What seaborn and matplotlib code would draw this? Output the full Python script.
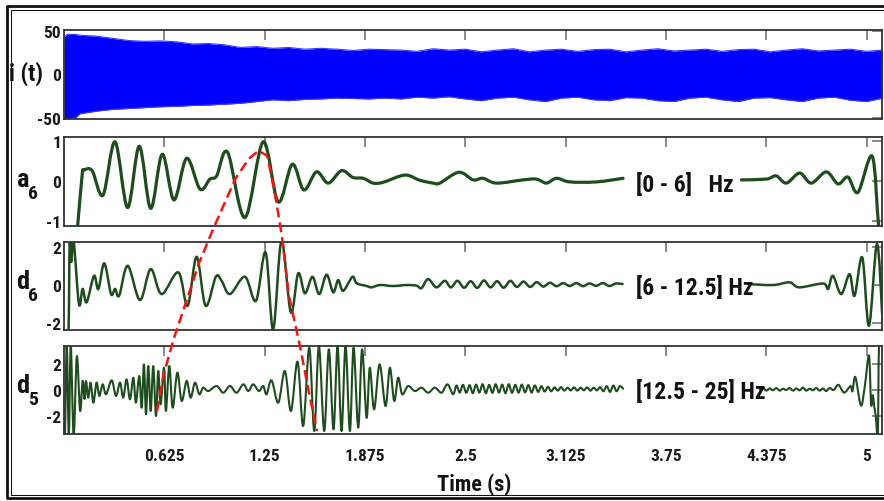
import os
import numpy as np
import pandas as pd
import matplotlib
matplotlib.use("Agg")
import matplotlib.pyplot as plt
import seaborn as sns
from matplotlib.lines import Line2D
from matplotlib.path import Path
from matplotlib.patches import PathPatch
from matplotlib import font_manager as fm

# ---------------- data ----------------
x_ticks = [0.625, 1.25, 1.875, 2.5, 3.125, 3.75, 4.375, 5]
x_tick_labels = ["0.625", "1.25", "1.875", "2.5", "3.125", "3.75", "4.375", "5"]
ytick_sets = [[-50, 0, 50], [-1, 0, 1], [-2, 0, 2], [-2, 0, 2]]
ylims = [(-51, 51), (-1.12, 1.10), (-2.34, 2.24), (-3.4, 3.4)]
band_labels = ["[0 - 6]   Hz", "[6 - 12.5] Hz", "[12.5 - 25] Hz"]
x_label = "Time (s)"

# i(t): envelope of the dense current signal
i_env_t = [0, 0.02, 0.07] + [round(0.1 * k, 1) for k in range(1, 52)]
i_upper = [43, 46, 46, 45, 44, 41.5, 39, 38, 38.5, 37.5, 35, 35.5, 34, 31, 32, 30, 31,
           29, 30, 29, 27.5, 29, 28.5, 28, 26.5, 29.5, 28, 29, 26, 28, 29.5, 26, 28, 29,
           26.5, 28.5, 29, 26, 28, 29.5, 27, 28, 29, 26.5, 28.5, 29, 26, 28, 29.5, 27,
           28, 29, 26.5, 28]
i_lower = [-51, -51, -50, -45, -42, -40, -39, -38, -37, -36.5, -35.5, -35, -34, -33,
           -31, -29, -30, -28.5, -28, -27, -27.5, -28, -27, -28, -26, -27, -25.5, -28,
           -30, -27, -26, -29, -31, -27, -26, -29, -30, -26.5, -27, -30, -31, -27, -26,
           -29, -31, -27, -26.5, -29, -31, -27, -26, -29.5, -31, -27]

# a6
a6_t = [0.0, 0.078, 0.085, 0.113, 0.122, 0.175, 0.243, 0.318, 0.396, 0.469, 0.54,
        0.612, 0.685, 0.764, 0.847, 0.909, 0.951, 1.019, 1.127, 1.241, 1.334, 1.422,
        1.494, 1.573, 1.646, 1.729, 1.80, 1.864, 1.926, 1.988, 2.123, 2.217, 2.30,
        2.341, 2.46, 2.549, 2.61, 2.694, 2.86, 2.943, 3.006, 3.068, 3.151, 3.317, 3.483]
a6_v = [-1.5, -1.5, -1.12, 0.15, 0.27, 0.26, -0.35, 0.98, -0.66, 0.87, -0.68, 0.67,
        -0.47, 0.57, -0.2, 0.05, 0.13, 0.72, -0.91, 0.98, -0.52, 0.42, -0.22, 0.23,
        -0.05, 0.26, 0.09, 0.07, -0.05, -0.03, 0.15, 0.02, -0.05, -0.05, 0.22, 0.03,
        0.07, -0.05, 0.03, 0.05, -0.05, 0.07, -0.02, -0.02, 0.07]
a6_t2 = [4.22, 4.375, 4.437, 4.5, 4.583, 4.655, 4.749, 4.822, 4.884, 4.946, 5.035,
         5.075, 5.1]
a6_v2 = [0.03, 0.05, 0.13, -0.05, 0.2, -0.05, 0.23, -0.07, 0.1, -0.28, 0.62, -1.12, -1.6]

# d6
d6_t = [0.0, 0.027, 0.035, 0.045, 0.06, 0.093, 0.116, 0.141, 0.187, 0.214, 0.251,
        0.293, 0.318, 0.344, 0.397, 0.473, 0.54, 0.608, 0.712, 0.77, 0.826, 0.882,
        0.946, 0.982, 1.034, 1.127, 1.196, 1.256, 1.303, 1.355, 1.413, 1.459, 1.501,
        1.548, 1.59, 1.636, 1.677, 1.708, 1.739, 1.797, 1.822, 1.885, 1.916, 1.968,
        2.05, 2.134, 2.196, 2.227, 2.268, 2.32, 2.372]
d6_v = [-2.5, -2.5, 2.1, 1.2, 2.3, -0.99, -0.2, -0.9, 0.48, -0.21, 1.13, -0.47, -0.2,
        -0.55, 1.0, -0.78, 0.83, -0.47, 0.66, -1.08, 1.47, -1.08, 0.43, 0.22, -0.47,
        0.43, -0.82, 1.7, -2.3, 2.3, -1.42, 0.61, -0.43, 0.43, -0.47, 0.54, -0.38,
        0.26, -0.3, 0.43, 0.1, -0.05, -0.12, 0.0, -0.05, 0.0, -0.03, -0.16, 0.31,
        -0.12, 0.22]
d6_rip = [-0.12, 0.22, -0.14, 0.2, -0.15, 0.24, -0.12, 0.2, -0.14, 0.22, -0.1, 0.18,
          -0.1, 0.15, -0.08, 0.12, -0.06, 0.1, -0.05, 0.1, -0.06, 0.08, -0.04, 0.1,
          -0.05, 0.08, 0.05]
d6_t2 = [4.26, 4.417, 4.52, 4.58, 4.728, 4.76, 4.79, 4.842, 4.894, 4.925, 4.973,
         5.015, 5.065, 5.10]
d6_v2 = [0.05, 0.0, 0.14, -0.12, 0.08, -0.2, 0.48, -0.47, 0.57, -0.56, 1.44, -2.12,
         2.14, -2.0]

# d5
d5_t = [0.0, 0.006, 0.017, 0.03, 0.042, 0.06, 0.08, 0.1, 0.116, 0.128,
        0.137, 0.151, 0.166, 0.183, 0.203, 0.22, 0.241, 0.262, 0.297, 0.324,
        0.349, 0.369, 0.39, 0.411, 0.432, 0.448, 0.469, 0.484, 0.498, 0.511,
        0.525, 0.54, 0.556, 0.573, 0.587, 0.602, 0.623, 0.635, 0.656, 0.677,
        0.706, 0.733, 0.764, 0.789, 0.816, 0.843, 0.867, 0.899, 0.951, 0.992,
        1.034, 1.075, 1.117, 1.148, 1.179,
        1.214, 1.241, 1.262, 1.293, 1.335, 1.376, 1.414, 1.455, 1.49, 1.528,
        1.559, 1.588, 1.621, 1.65, 1.679, 1.704, 1.729, 1.754, 1.781, 1.804,
        1.833, 1.857, 1.885, 1.905, 1.932, 1.966, 2.003, 2.03, 2.057, 2.082,
        2.107, 2.144, 2.186, 2.227, 2.269, 2.31, 2.352, 2.389, 2.424]
d5_v = [-3.5, -3.5, 3.5, -3.5, 3.5, -3.5, 2.6, -1.6, 0.7, -0.7,
        0.70, -0.59, 0.57, -0.98, 0.57, -0.46, 0.44, -0.33, 0.75, -0.46,
        0.57, -0.59, 0.82, -0.72, 0.95, -0.98, 1.08, -1.37, 1.98, -1.88,
        1.85, -1.62, 1.85, -2.01, 1.47, -1.11, 1.72, -1.62, 1.85, -1.37,
        1.34, -0.85, 0.70, -0.59, 0.57, -0.33, 0.18, -0.08, 0.31, -0.21,
        0.31, -0.21, 0.44, -0.08, 0.44,
        -0.08, 0.31, -0.33, 0.75, -0.98, 1.47, -1.62, 2.19, -2.78, 3.27,
        -3.17, 3.4, -3.17, 3.14, -3.04, 3.32, -3.17, 3.4, -3.17, 3.27,
        -2.91, 3.14, -2.14, 1.72, -1.5, 1.98, -1.24, 1.72, -0.85, 0.95,
        -0.33, 0.31, -0.08, 0.18, -0.21, 0.18, -0.21, 0.44, -0.33]
d5_rip1 = [0.35, -0.2, 0.4, -0.22, 0.38, -0.25, 0.42, -0.2, 0.45, -0.25,
           0.4, -0.22, 0.45, -0.2, 0.42, -0.25, 0.45, -0.22, 0.4, -0.2,
           0.42, -0.18, 0.38, -0.2, 0.35, -0.15, 0.3, -0.12, 0.25, -0.1,
           0.2, -0.05, 0.22, -0.05, 0.18, -0.03, 0.2, -0.05, 0.18, -0.02,
           0.2, -0.05, 0.18, -0.03, 0.22, -0.1, 0.3, -0.15, 0.35, -0.1,
           0.3, 0.1]
d5_rip2 = [0.05, 0.15, -0.05, 0.12, -0.02, 0.15, -0.05, 0.1, 0.0, 0.15, -0.05, 0.12,
           -0.03, 0.18, -0.05, 0.1, -0.02, 0.15, -0.05, 0.12, -0.08, 0.15, 0.0]
d5_t3 = [4.80, 4.825, 4.86, 4.90, 4.912, 4.93, 4.965, 4.99, 5.015, 5.028, 5.038,
         5.048, 5.058, 5.07, 5.078, 5.1]
d5_v3 = [0.05, 0.4, -0.2, 0.3, -0.1, 1.0, -1.2, 0.4, 2.65, -1.1, -0.4, -1.3, -2.1,
         -3.5, 3.5, 3.5]

# red dashed arc, in d5 data units (crosses the panels above)
arc_t = [0.580, 0.621, 0.683, 0.767, 0.839, 0.924, 1.067, 1.150, 1.212, 1.265, 1.306,
         1.358, 1.399, 1.458, 1.472, 1.524, 1.576]
arc_v = [-1.60, 1.21, 3.94, 7.03, 9.74, 12.29, 16.31, 17.85, 18.49, 18.11, 15.78,
         11.86, 7.42, 4.07, 3.27, -0.08, -3.17]

# ---------------- assemble frames ----------------
def frame(*segments):
    parts = []
    for k, (t, v) in enumerate(segments):
        parts.append(pd.DataFrame({"t": list(t), "v": list(v), "seg": k}))
    return pd.concat(parts, ignore_index=True)

df_a6 = frame((a6_t, a6_v), (a6_t2, a6_v2))
df_d6 = frame((d6_t + list(np.linspace(2.41, 3.48, len(d6_rip))), d6_v + d6_rip),
              (d6_t2, d6_v2))
df_d5 = frame((d5_t + list(np.linspace(2.445, 3.483, len(d5_rip1))), d5_v + d5_rip1),
              (list(np.linspace(4.334, 4.79, len(d5_rip2))) + d5_t3, d5_rip2 + d5_v3))
df_i = pd.DataFrame({"t": i_env_t, "up": i_upper, "lo": i_lower})

# ---------------- fonts ----------------
sns.set_theme(style="white")
plt.rcParams["axes.unicode_minus"] = False


def pick_narrow_bold():
    prefs = ["liberation sans narrow", "arial narrow", "nimbus sans narrow",
             "roboto condensed", "open sans condensed", "noto sans condensed",
             "dejavu sans condensed"]
    best, best_score = None, None
    for f in fm.fontManager.ttflist:
        key = (f.name + " " + os.path.basename(f.fname)).lower().replace("-", " ")
        if not ("narrow" in key or "condensed" in key):
            continue
        if f.style != "normal" or "italic" in key or "oblique" in key:
            continue
        score = 0
        for i, p in enumerate(prefs):
            if p in key:
                score += 100 - 10 * i
                break
        if "semi" in key or "semicondensed" in key:
            score -= 15
        if "extra" in key or "ultra" in key:
            score -= 25
        w = f.weight if isinstance(f.weight, int) else {"bold": 700}.get(f.weight, 400)
        if w == 700 or "bold" in key and "semibold" not in key and "extrabold" not in key:
            score += 50
        elif w >= 600:
            score += 20
        if best_score is None or score > best_score:
            best, best_score = f, score
    return best


_nf = pick_narrow_bold()
if _nf is not None:
    NARROW = True

    def FP(size):
        return fm.FontProperties(fname=_nf.fname, size=size)
else:
    NARROW = False

    def FP(size):
        return fm.FontProperties(family=["Liberation Sans", "DejaVu Sans"],
                                 weight="bold", size=size * 0.84)

GREEN = "#1d4d1d"
BLUE = "#0000ff"
W_PX, H_PX = 884, 502
fig = plt.figure(figsize=(W_PX / 100, H_PX / 100), dpi=100)
fig.patch.set_facecolor("white")

left, right = 64, 882
tops = [31, 138, 243, 347]
bots = [120, 227, 331, 435]
axes = [fig.add_axes([left / W_PX, 1 - b / H_PX, (right - left) / W_PX, (b - t) / H_PX])
        for t, b in zip(tops, bots)]

# panel 1: current band
ax = axes[0]
ax.fill_between(df_i["t"], df_i["lo"], df_i["up"], color=BLUE, lw=0)
sns.lineplot(data=df_i, x="t", y="up", ax=ax, color="#3a3aff", lw=0.8, estimator=None)
sns.lineplot(data=df_i, x="t", y="lo", ax=ax, color="#3a3aff", lw=0.8, estimator=None)


def smooth_path(xy):
    P = np.asarray(xy, dtype=float)
    verts, codes = [P[0]], [Path.MOVETO]
    n = len(P)
    for i in range(n - 1):
        p0 = P[i - 1] if i > 0 else P[i]
        p1, p2 = P[i], P[i + 1]
        p3 = P[i + 2] if i + 2 < n else P[i + 1]
        c1 = p1 + (p2 - p0) / 6.0
        c2 = p2 - (p3 - p1) / 6.0
        c1[0] = min(max(c1[0], p1[0]), p2[0])
        c2[0] = min(max(c2[0], p1[0]), p2[0])
        verts += [c1, c2, p2]
        codes += [Path.CURVE4] * 3
    return Path(verts, codes)


for ax, df, lw in zip(axes[1:], [df_a6, df_d6, df_d5], [2.3, 1.8, 1.5]):
    sns.lineplot(data=df, x="t", y="v", units="seg", estimator=None, sort=False,
                 color=GREEN, lw=lw, ax=ax, legend=False)
    # render each seaborn line as a smooth curve through its points
    for line in list(ax.get_lines()):
        xy = line.get_xydata()
        patch = PathPatch(smooth_path(xy), fc="none", ec=GREEN, lw=lw,
                          joinstyle="round", capstyle="round", zorder=2)
        ax.add_patch(patch)
        line.remove()

for k, ax in enumerate(axes):
    ax.set_facecolor("white")
    ax.set_xlim(0, 5.096)
    ax.set_ylim(*ylims[k])
    ax.set_xticks(x_ticks)
    ax.set_yticks(ytick_sets[k])
    ax.set_yticklabels([str(v) for v in ytick_sets[k]])
    if k == 3:
        ax.set_xticklabels(x_tick_labels)
    else:
        ax.set_xticklabels([])
    ax.tick_params(axis="both", direction="in", length=7, width=1.3, color="#808080",
                   top=True, right=True, labelcolor="#1a1a1a")
    ax.tick_params(axis="y", pad=2)
    ax.tick_params(axis="x", pad=10)
    for lbl in ax.get_xticklabels() + ax.get_yticklabels():
        lbl.set_fontproperties(FP(12.5))
    for s in ax.spines.values():
        s.set_color("#333333")
        s.set_linewidth(1.3)
    ax.grid(False)
    ax.set_xlabel("")
    ax.set_ylabel("")

# band labels
for ax, lab, yoff in zip(axes[1:], band_labels, [-0.07, -0.12, -0.08]):
    ax.text(3.565, yoff, lab, ha="left", va="center", fontproperties=FP(17),
            color="#111111")

# red dashed arc
axes[3].plot(arc_t, arc_v, color="#ff1010", lw=1.8, ls=(0, (4, 2)), clip_on=False,
             zorder=10)


def ftxt(x, y, s, size, **kw):
    fig.text(x / W_PX, 1 - y / H_PX, s, fontproperties=FP(size), color="#111111", **kw)


ftxt(26, 74, "i (t)", 17, ha="center", va="center")
for (letter, sub), yc in zip([("a", "6"), ("d", "6"), ("d", "5")], [180, 282, 386]):
    ftxt(29, yc, letter, 19, ha="right", va="center")
    ftxt(28, yc + 14, sub, 14, ha="left", va="center")

ftxt(474, 485, x_label, 16, ha="center", va="center")

# outer double frame
for x0, y0, y1, lw in [(7.3, 7.3, 499.3, 2.0), (10.5, 10.5, 495.8, 0.75)]:
    fx, fy0, fy1 = x0 / W_PX, 1 - y0 / H_PX, 1 - y1 / H_PX
    fig.add_artist(Line2D([1.02, fx, fx, 1.02], [fy0, fy0, fy1, fy1],
                          transform=fig.transFigure, color="#111111", lw=lw))

fig.savefig("out.png", dpi=100, facecolor="white")
